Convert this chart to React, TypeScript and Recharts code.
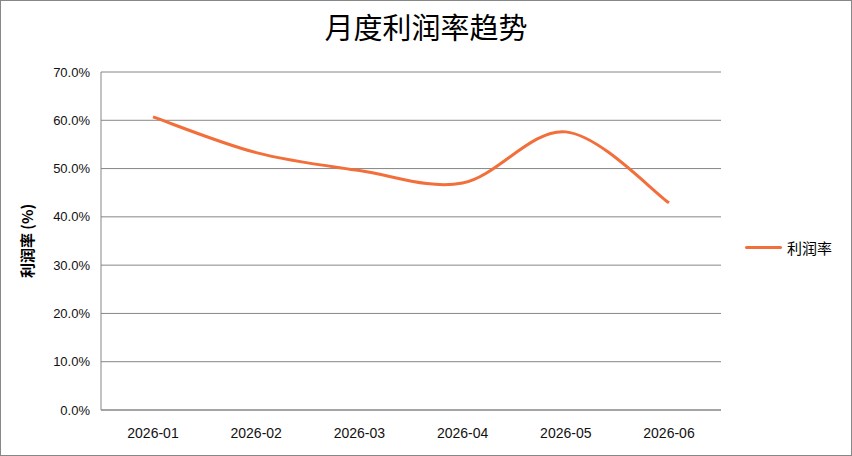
import { LineChart, Line, XAxis, YAxis, CartesianGrid } from 'recharts';

const months = ['2026-01', '2026-02', '2026-03', '2026-04', '2026-05', '2026-06'];
const profitRate = [60.7, 53.3, 49.6, 47.0, 57.6, 42.9];
const yTicks = [0, 10, 20, 30, 40, 50, 60, 70];
const seriesName = '利润率';

const data = months.map((m, i) => ({ month: m, rate: profitRate[i] }));

const LINE_COLOR = '#F26E3A';
const GRID = '#868686';

// excel-style smoothing (uniform catmull-rom through the points)
const smoothCurve = (context: any) => {
  let pts: number[][] = [];
  return {
    areaStart() {},
    areaEnd() {},
    lineStart() { pts = []; },
    lineEnd() {
      if (!pts.length) return;
      context.moveTo(pts[0][0], pts[0][1]);
      for (let i = 0; i < pts.length - 1; i++) {
        const p0 = pts[i - 1] || pts[i];
        const p1 = pts[i];
        const p2 = pts[i + 1];
        const p3 = pts[i + 2] || p2;
        context.bezierCurveTo(
          p1[0] + (p2[0] - p0[0]) / 6, p1[1] + (p2[1] - p0[1]) / 6,
          p2[0] - (p3[0] - p1[0]) / 6, p2[1] - (p3[1] - p1[1]) / 6,
          p2[0], p2[1],
        );
      }
    },
    point(x: number, y: number) { pts.push([+x, +y]); },
  };
};

export default function App() {
  return (
    <div style={{ position: 'relative', width: 852, height: 456, background: '#fff' }}>
      <style>{'body{margin:0}'}</style>
      <div style={{ position: 'absolute', inset: 0, border: '1px solid #878787', boxSizing: 'border-box', pointerEvents: 'none' }} />
      <div style={{ position: 'absolute', top: 12, left: 0, width: 852, textAlign: 'center', fontFamily: '"Noto Sans CJK SC", sans-serif', fontSize: 29, lineHeight: 1, color: '#000' }}>
        月度利润率趋势
      </div>
      <LineChart width={852} height={456} data={data} margin={{ top: 72, right: 131, bottom: 0, left: 0 }}>
        <CartesianGrid vertical={false} stroke={GRID} strokeWidth={1} />
        <XAxis
          dataKey="month"
          height={46}
          padding={{ left: 52, right: 52 }}
          tickLine={false}
          tickSize={0}
          tickMargin={18}
          axisLine={{ stroke: GRID }}
          tick={{ fontSize: 14, fill: '#111', fontFamily: '"Liberation Sans", Arial, sans-serif' }}
        />
        <YAxis
          width={101}
          domain={[0, 70]}
          ticks={yTicks}
          interval={0}
          tickFormatter={(v: number) => `${v.toFixed(1)}%`}
          tickLine={false}
          tickSize={0}
          tickMargin={11}
          axisLine={{ stroke: GRID }}
          tick={{ fontSize: 13, fill: '#111', fontFamily: '"Liberation Sans", Arial, sans-serif' }}
          label={{
            value: '利润率 (%)', angle: -90, position: 'insideLeft', offset: 28, textAnchor: 'middle',
            style: { fontSize: 15, fontWeight: 'bold', fill: '#000', fontFamily: '"Noto Sans CJK SC", sans-serif', textAnchor: 'middle' },
          }}
        />
        <Line
          dataKey="rate"
          name={seriesName}
          type={smoothCurve as any}
          stroke={LINE_COLOR}
          strokeWidth={3}
          dot={false}
          activeDot={false}
          isAnimationActive={false}
        />
      </LineChart>
      <div style={{ position: 'absolute', left: 745, top: 237, display: 'flex', alignItems: 'center', height: 20 }}>
        <span style={{ display: 'inline-block', width: 37, height: 3, background: LINE_COLOR, borderRadius: 2 }} />
        <span style={{ marginLeft: 5, fontSize: 15, fontFamily: '"Noto Sans CJK SC", sans-serif', color: '#000' }}>{seriesName}</span>
      </div>
    </div>
  );
}
